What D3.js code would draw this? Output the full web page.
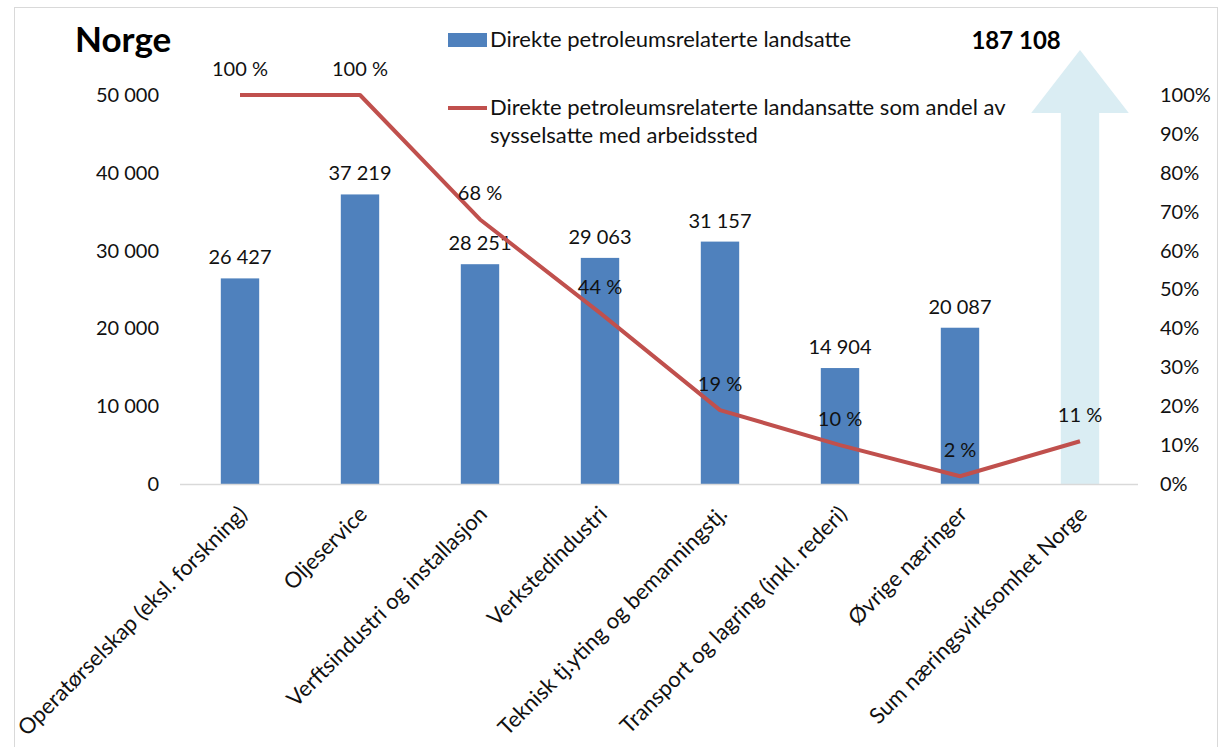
<!DOCTYPE html>
<html><head><meta charset="utf-8">
<script src="https://cdn.jsdelivr.net/npm/d3@7"></script>
<style>
body{margin:0;background:#fff;}
text{font-family:Lato,'Open Sans',sans-serif;fill:#111;}
</style></head>
<body>
<svg id="chart" width="1223" height="747"></svg>
<script>
const categories = ["Operatørselskap (eksl. forskning)","Oljeservice","Verftsindustri og installasjon","Verkstedindustri","Teknisk tj.yting og bemanningstj.","Transport og lagring (inkl. rederi)","Øvrige næringer","Sum næringsvirksomhet Norge"];
const employees = [26427, 37219, 28251, 29063, 31157, 14904, 20087, 187108];
const shares = [1.00, 1.00, 0.68, 0.44, 0.19, 0.10, 0.02, 0.11];
const leftTicks = [0, 10000, 20000, 30000, 40000, 50000];
const rightTicks = [0,0.1,0.2,0.3,0.4,0.5,0.6,0.7,0.8,0.9,1.0];
const title = "Norge";
const legendBar = "Direkte petroleumsrelaterte landsatte";
const legendLine = ["Direkte petroleumsrelaterte landansatte som andel av","sysselsatte med arbeidssted"];

const svg = d3.select("#chart");
const loc = d3.formatLocale({decimal:",", thousands:" ", grouping:[3], currency:["",""]});
const fmt = loc.format(",d");

const x = d3.scaleBand().domain(categories).range([180,1140]).paddingInner(0.68).paddingOuter(0.34);
const y = d3.scaleLinear().domain([0,50000]).range([484,95]);
const yp = d3.scaleLinear().domain([0,1]).range([484,95]);

// border
svg.append("rect").attr("x",14.5).attr("y",7.5).attr("width",1203).attr("height",800)
  .attr("fill","none").attr("stroke","#d9d9d9").attr("stroke-width",1);

// title
svg.append("text").attr("x",75).attr("y",52).attr("font-size",35).attr("font-weight","bold").style("fill","#000").text(title);

// axes
const la = svg.append("g").attr("transform","translate(180,0)")
  .call(d3.axisLeft(y).tickValues(leftTicks).tickSize(0).tickPadding(21).tickFormat(fmt));
la.select(".domain").remove();
la.selectAll("text").attr("font-size",20).style("font-family","Lato,'Open Sans',sans-serif").style("fill","#111");

const ra = svg.append("g").attr("transform","translate(1140,0)")
  .call(d3.axisRight(yp).tickValues(rightTicks).tickSize(0).tickPadding(20).tickFormat(d3.format(".0%")));
ra.select(".domain").remove();
ra.selectAll("text").attr("font-size",20).style("font-family","Lato,'Open Sans',sans-serif").style("fill","#111");

// data
const data = categories.map((c,i)=>({c, v:employees[i], p:shares[i], total: i===categories.length-1}));
const bw = x.bandwidth();

// regular bars
svg.append("g").selectAll("rect").data(data.filter(d=>!d.total)).join("rect")
  .attr("x",d=>x(d.c)).attr("y",d=>y(d.v)).attr("width",bw).attr("height",d=>y(0)-y(d.v))
  .attr("fill","#4f81bd");

// total as arrow (value exceeds axis)
const tot = data.find(d=>d.total);
const ax0 = x(tot.c), ax1 = x(tot.c)+bw, acx = x(tot.c)+bw/2;
const headBase = 113, tip = 50, headHalf = bw*1.27;
svg.append("path").datum(tot)
  .attr("d", d3.line()([[ax0,y(0)],[ax0,headBase],[acx-headHalf,headBase],[acx,tip],[acx+headHalf,headBase],[ax1,headBase],[ax1,y(0)]]) + "Z")
  .attr("fill","#daedf3");

// baseline
svg.append("line").attr("x1",180).attr("x2",1138).attr("y1",y(0)+0.5).attr("y2",y(0)+0.5)
  .attr("stroke","#d9d9d9").attr("stroke-width",1.5);

// bar labels
svg.append("g").selectAll("text").data(data.filter(d=>!d.total)).join("text")
  .attr("x",d=>x(d.c)+bw/2).attr("y",d=>y(d.v)-14).attr("text-anchor","middle").attr("font-size",20)
  .text(d=>fmt(d.v));
svg.append("text").attr("x",ax0).attr("y",49).attr("text-anchor","end").attr("font-size",24).attr("font-weight","bold").style("fill","#000")
  .text(fmt(tot.v));

// line
svg.append("path").datum(data)
  .attr("d", d3.line().x(d=>x(d.c)+bw/2).y(d=>yp(d.p)))
  .attr("fill","none").attr("stroke","#c0504d").attr("stroke-width",4).attr("stroke-linejoin","round");

svg.append("g").selectAll("text").data(data).join("text")
  .attr("x",d=>x(d.c)+bw/2).attr("y",d=>yp(d.p)-19).attr("text-anchor","middle").attr("font-size",20)
  .text(d=>Math.round(d.p*100)+" %");

// category labels
svg.append("g").selectAll("text").data(data).join("text")
  .attr("text-anchor","end").attr("font-size",22).attr("dy","0.35em")
  .attr("transform",d=>`translate(${x(d.c)+bw/2+3},${510}) rotate(-45)`)
  .text(d=>d.c);

// legend
svg.append("rect").attr("x",448).attr("y",33).attr("width",39).attr("height",14).attr("fill","#4f81bd");
svg.append("text").attr("x",490).attr("y",47).attr("font-size",22).text(legendBar);
svg.append("line").attr("x1",448).attr("x2",487).attr("y1",108).attr("y2",108).attr("stroke","#c0504d").attr("stroke-width",4);
svg.append("text").attr("x",490).attr("y",115).attr("font-size",22).text(legendLine[0]);
svg.append("text").attr("x",490).attr("y",143).attr("font-size",22).text(legendLine[1]);
</script>
</body></html>
